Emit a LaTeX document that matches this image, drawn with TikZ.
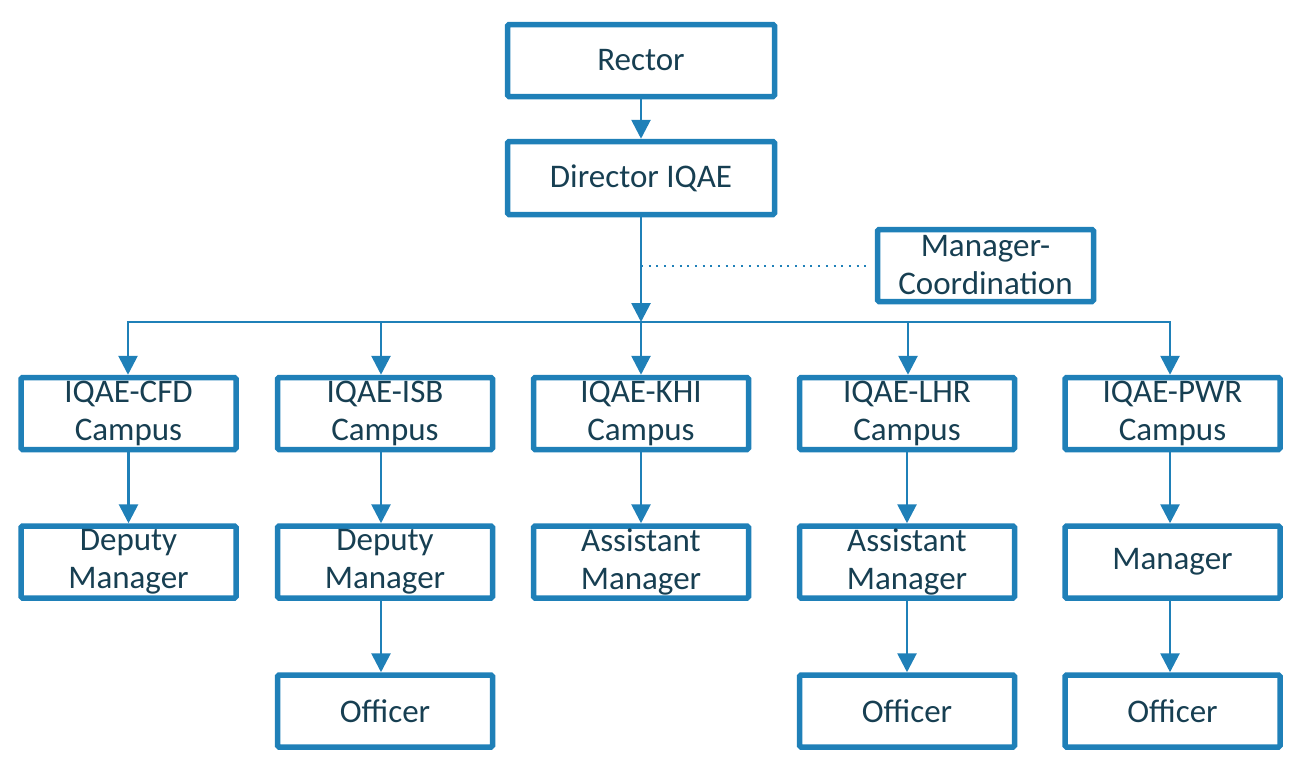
\documentclass[tikz,border=0pt]{standalone}
\usepackage{fontspec}
\setmainfont{Carlito}
\usetikzlibrary{arrows.meta,calc}
\definecolor{boxblue}{HTML}{1F80B8}
\definecolor{txt}{HTML}{173F52}
\begin{document}
\begin{tikzpicture}[x=1pt,y=-1pt,
  orgbox/.style={draw=boxblue,line width=5.5pt,rounded corners=1.5pt,minimum width=#1,minimum height=72pt,
    inner sep=0pt,align=center,text=txt,font=\fontsize{33}{38}\selectfont},
  orgbox/.default=215pt,
  link/.style={draw=boxblue,line width=2.8pt,-{Triangle[width=19pt,length=19pt]}},
  bar/.style={draw=boxblue,line width=2.8pt},
  dots/.style={draw=boxblue,line width=2pt,dash pattern=on 2pt off 5.7pt}]
\useasboundingbox (0,0) rectangle (1297,758);
\node[orgbox=267pt] (rector) at (641,60.5) {Rector};
\node[orgbox=267pt,minimum height=73pt] (director) at (641,178) {Director IQAE};
\node[orgbox=216pt] (mc) at (985.5,265.5) {Manager-\\Coordination};
\node[orgbox] (cfd) at (128.5,413.5) {IQAE-CFD\\Campus};
\node[orgbox] (isb) at (385,413.5) {IQAE-ISB\\Campus};
\node[orgbox] (khi) at (641,413.5) {IQAE-KHI\\Campus};
\node[orgbox] (lhr) at (907,413.5) {IQAE-LHR\\Campus};
\node[orgbox] (pwr) at (1172.5,413.5) {IQAE-PWR\\Campus};
\node[orgbox] (cfd2) at (128.5,562) {Deputy\\Manager};
\node[orgbox] (isb2) at (385,562) {Deputy\\Manager};
\node[orgbox] (khi2) at (641,562) {Assistant\\Manager};
\node[orgbox] (lhr2) at (907,562) {Assistant\\Manager};
\node[orgbox] (pwr2) at (1172.5,562) {Manager};
\node[orgbox] (isb3) at (385,711) {Officer};
\node[orgbox] (lhr3) at (907,711) {Officer};
\node[orgbox] (pwr3) at (1172.5,711) {Officer};
\coordinate (bus) at (641,322);
\coordinate (mcend) at ($(mc.west)+(-6,0)$);
% connectors
\draw[link] (rector.south) -- (director.north);
\draw[dots] (director.south |- mc.west) -- (mcend);
\draw[link] (director.south) -- (bus);
\draw[bar] ([xshift=-1.3pt]cfd.north |- bus) -- ([xshift=-1.3pt]pwr.north |- bus);
\foreach \n/\s in {cfd/-0.5,isb/-4,khi/0,lhr/1,pwr/-2.5}{
  \draw[link] ([xshift=\s pt]\n.north |- bus) -- ([xshift=\s pt]\n.north);
}
\draw[link] (cfd.south) -- (cfd2.north);
\draw[link] ([xshift=-4pt]isb.south) -- ([xshift=-4pt]isb2.north);
\draw[link] (khi.south) -- (khi2.north);
\draw[link] (lhr.south) -- (lhr2.north);
\draw[link] ([xshift=-2.5pt]pwr.south) -- ([xshift=-2.5pt]pwr2.north);
\draw[link] ([xshift=-4pt]isb2.south) -- ([xshift=-4pt]isb3.north);
\draw[link] (lhr2.south) -- (lhr3.north);
\draw[link] ([xshift=-2.5pt]pwr2.south) -- ([xshift=-2.5pt]pwr3.north);
\end{tikzpicture}
\end{document}
